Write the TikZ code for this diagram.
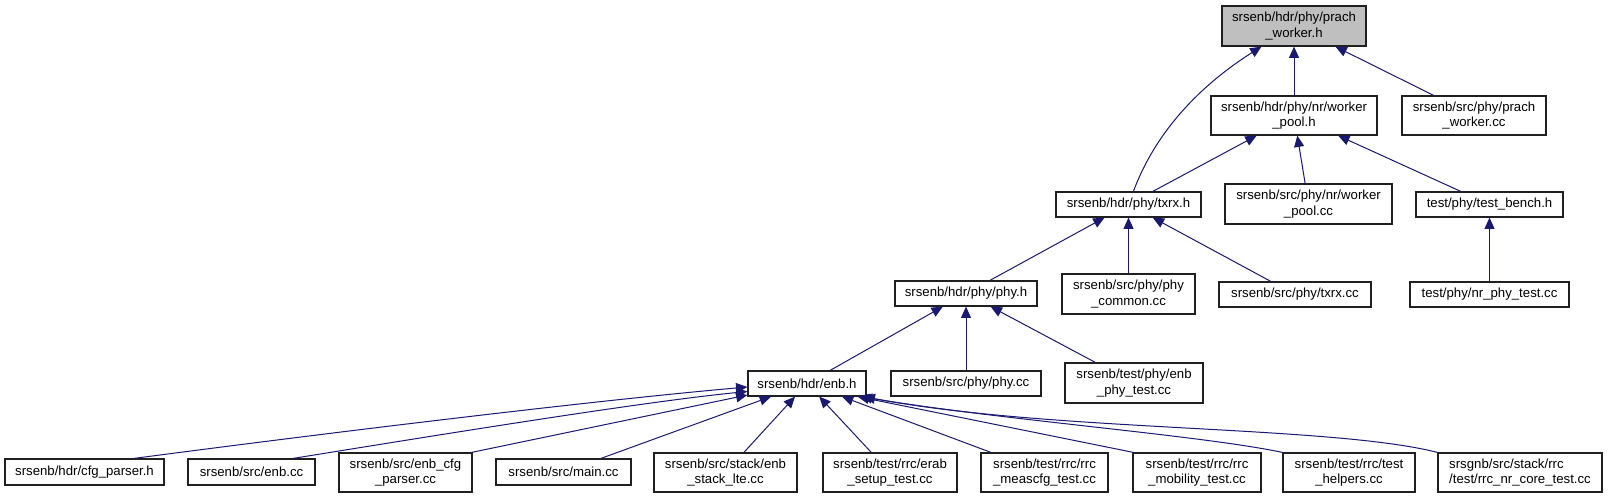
\documentclass[tikz,border=0pt]{standalone}
\usepackage{fontspec}
\setmainfont{Liberation Sans}
\usetikzlibrary{arrows.meta,calc}
\definecolor{edgeblue}{HTML}{191970}
\definecolor{hlgray}{HTML}{BFBFBF}
\definecolor{boxline}{HTML}{202020}
\begin{document}
\begin{tikzpicture}[x=0.75pt,y=-0.75pt,
  box/.style={draw=boxline, line width=0.9pt, fill=white, inner sep=0pt, align=center,
    font=\fontsize{9.9}{11.75}\selectfont},
  sz/.style 2 args={minimum width=#1*0.75pt, minimum height=#2*0.75pt},
  edge/.style={draw=edgeblue, line width=0.75pt, {Triangle[length=8.5pt,width=7.5pt]}-},
]
\useasboundingbox[fill=white] (0,0) rectangle (1608,499);

% nodes
\node[box, fill=hlgray, sz={144}{40}] (pw) at (1294,26) {srsenb/hdr/phy/prach\\\_worker.h};
\node[box, sz={166}{39}] (wp) at (1294,115.5) {srsenb/hdr/phy/nr/worker\\\_pool.h};
\node[box, sz={144}{39}] (pwcc) at (1474,115.5) {srsenb/src/phy/prach\\\_worker.cc};
\node[box, sz={145}{25}] (txrx) at (1128.5,204.5) {srsenb/hdr/phy/txrx.h};
\node[box, sz={167}{40}] (wpcc) at (1308.5,204) {srsenb/src/phy/nr/worker\\\_pool.cc};
\node[box, sz={147}{25}] (tb) at (1489.5,204.5) {test/phy/test\_bench.h};
\node[box, sz={142}{25}] (phyh) at (966,293.5) {srsenb/hdr/phy/phy.h};
\node[box, sz={133}{40}] (pcom) at (1128.5,294) {srsenb/src/phy/phy\\\_common.cc};
\node[box, sz={152}{25}] (txcc) at (1295,294.5) {srsenb/src/phy/txrx.cc};
\node[box, sz={159}{25}] (nrpt) at (1489.5,294.5) {test/phy/nr\_phy\_test.cc};
\node[box, sz={118}{25}] (enb) at (807,383.5) {srsenb/hdr/enb.h};
\node[box, sz={150}{25}] (phycc) at (966,383.5) {srsenb/src/phy/phy.cc};
\node[box, sz={138}{40}] (ept) at (1134,383) {srsenb/test/phy/enb\\\_phy\_test.cc};

\node[box, sz={159}{26}] (cfgp) at (84.5,472) {srsenb/hdr/cfg\_parser.h};
\node[box, sz={127}{26}] (enbcc) at (251.5,472) {srsenb/src/enb.cc};
\node[box, sz={133}{39}] (ecp) at (405.5,472.5) {srsenb/src/enb\_cfg\\\_parser.cc};
\node[box, sz={135}{26}] (main) at (563.5,472) {srsenb/src/main.cc};
\node[box, sz={143}{39}] (stack) at (725.5,472.5) {srsenb/src/stack/enb\\\_stack\_lte.cc};
\node[box, sz={134}{39}] (erab) at (890,472.5) {srsenb/test/rrc/erab\\\_setup\_test.cc};
\node[box, sz={127}{39}] (meas) at (1044.5,472.5) {srsenb/test/rrc/rrc\\\_meascfg\_test.cc};
\node[box, sz={128}{39}] (mob) at (1197,472.5) {srsenb/test/rrc/rrc\\\_mobility\_test.cc};
\node[box, sz={132}{39}] (help) at (1349,472.5) {srsenb/test/rrc/test\\\_helpers.cc};
\node[box, sz={164}{39}, align=left] (core) at (1520,472.5) {srsgnb/src/stack/rrc\\/test/rrc\_nr\_core\_test.cc};

% edges
\draw[edge] (pw) .. controls (1215,76) and (1160,120) .. (txrx);
\draw[edge] (pw) -- (wp);
\draw[edge] (pw) -- (pwcc);
\draw[edge] (wp) -- (txrx);
\draw[edge] (wp) -- (wpcc);
\draw[edge] (wp) -- (tb);
\draw[edge] (tb) -- (nrpt);
\draw[edge] (txrx) -- (phyh);
\draw[edge] (txrx) -- (pcom);
\draw[edge] (txrx) -- (txcc);
\draw[edge] (phyh) -- (enb);
\draw[edge] (phyh) -- (phycc);
\draw[edge] (phyh) -- (ept);

\draw[edge] ($(enb.west)+(0,3.5)$) .. controls (600,400) and (350,430) .. ($(cfgp.north)+(49.5,0)$);
\draw[edge] ($(enb.west)+(0,8)$) .. controls (640,402) and (420,438) .. ($(enbcc.north)+(41.5,0)$);
\draw[edge] ($(enb.west)+(0,11.5)$) -- ($(ecp.north east)+(-1,0)$);
\draw[edge] (enb) -- (main);
\draw[edge] (enb) -- (stack);
\draw[edge] (enb) -- (erab);
\draw[edge] (enb) -- (meas);
\draw[edge] ($(enb.south east)+(-9,0)$) -- ($(mob.north west)+(1,0)$);
\draw[edge] ($(enb.south east)+(-6,0)$) .. controls (1000,420) and (1200,435) .. (help.north west);
\draw[edge] ($(enb.south east)+(-3,0)$) .. controls (1050,432) and (1330,425) .. (core.north west);
\end{tikzpicture}
\end{document}
